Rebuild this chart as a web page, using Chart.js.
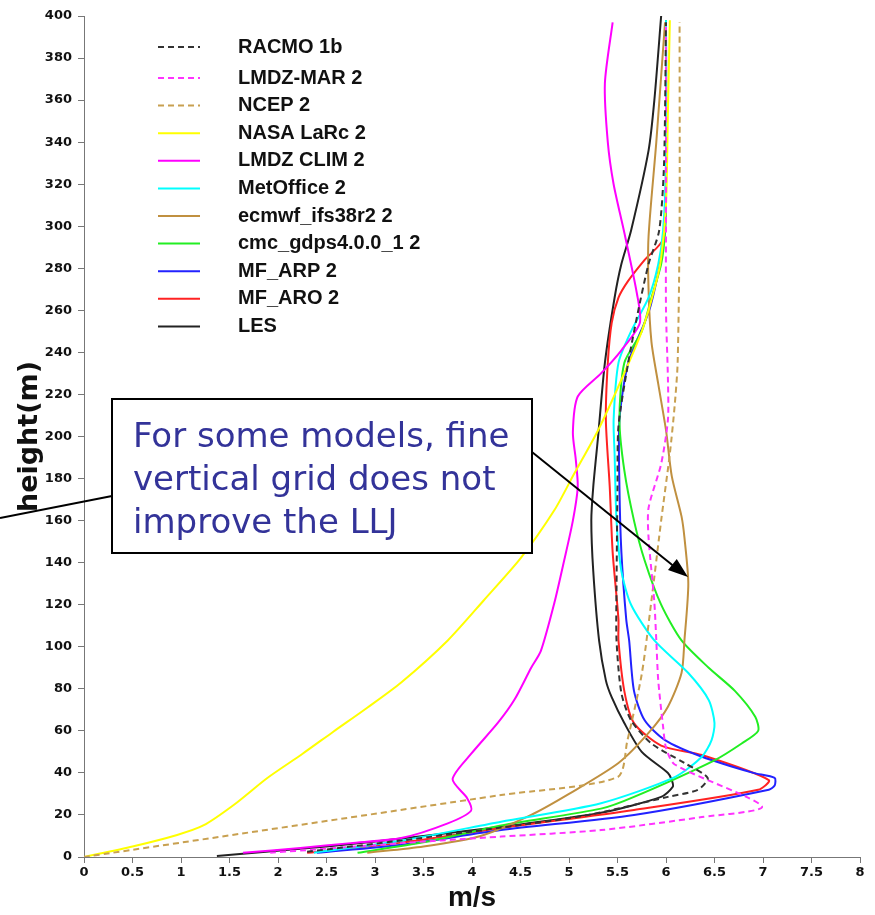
<!DOCTYPE html>
<html>
<head>
	<meta charset="UTF-8">
	<title>Wind speed profiles - LLJ</title>
	<style>
		html, body { margin: 0; padding: 0; background: #fff; }
		canvas { display: block; }
	</style>
	<script src="https://cdn.jsdelivr.net/npm/chart.js@4.4.1/dist/chart.umd.min.js"></script>
</head>
<body>
<canvas id="canvas" width="875" height="915"></canvas>
<script>
	// [speed m/s, height m]
	var racmo    = [[2.3,2.5],[3.3,8],[4.3,14],[5.2,20],[6.02,28.6],[6.33,32],[6.43,37.6],[6.19,44.7],[5.85,54],[5.64,65],[5.54,78],[5.49,103],[5.49,128],[5.5,176],[5.51,205],[5.61,235],[5.71,259],[5.82,282],[5.93,298],[5.98,330],[6.0,397]];
	var lmdzMar  = [[1.92,2],[3.27,6.6],[4.3,9.7],[5.33,12.8],[6.37,19],[6.99,24],[6.09,44],[6.0,52],[5.97,62],[5.92,84],[5.9,103],[5.88,121],[5.82,152],[5.82,166],[5.95,187],[6.02,208],[6.02,227],[6.0,260],[6.0,300],[6.0,395]];
	var ncep     = [[0,0],[4.3,29.5],[5.5,38],[5.6,55],[5.75,87],[5.85,122],[5.95,160],[6.04,192],[6.09,215],[6.12,235],[6.14,300],[6.14,397]];
	var nasa     = [[0,0],[0.5,5],[0.96,10.5],[1.23,15],[1.55,25],[1.89,37.6],[2.25,49],[2.57,59.6],[2.92,71],[3.27,83],[3.75,103],[4.12,122],[4.5,142],[4.85,165],[5.05,182],[5.3,203],[5.54,227],[5.75,250],[5.88,270],[5.95,285],[6.0,310],[6.02,355],[6.04,398]];
	var lmdzClim = [[1.64,2],[2.23,4.3],[2.75,6.6],[3.27,9],[3.75,16],[3.99,22],[3.95,28],[3.8,37],[3.99,49],[4.27,64],[4.44,75],[4.61,90],[4.71,98],[4.85,121],[4.95,141],[5.04,160],[5.09,176],[5.07,189],[5.04,202],[5.09,219],[5.33,230],[5.54,241],[5.73,254],[5.7,268],[5.57,297],[5.46,320],[5.4,340],[5.37,368],[5.45,397]];
	var metOffice= [[2.37,2],[3.3,8],[4.3,16.8],[5.33,25.6],[6.09,38],[6.37,47.7],[6.47,55.6],[6.5,63.7],[6.44,74.7],[6.23,87.5],[5.88,103],[5.64,120],[5.54,136],[5.49,160],[5.47,192],[5.46,208],[5.51,235],[5.64,250],[5.82,266],[5.92,282],[5.97,298],[6.0,330],[6.0,398]];
	var ecmwf    = [[2.92,2],[3.5,5],[4.09,10],[4.61,20],[5.0,30],[5.51,44.7],[5.82,59],[6.02,71.5],[6.16,87.5],[6.19,103],[6.23,130],[6.19,152],[6.16,162],[6.06,181],[6.0,203],[5.92,225],[5.85,245],[5.82,270],[5.82,295],[5.9,340],[5.99,397]];
	var cmc      = [[2.82,2],[3.5,7],[4.3,15],[5.33,23],[5.67,28.6],[6.5,46],[6.78,54],[6.95,60],[6.92,66.7],[6.71,79],[6.44,90],[6.16,103],[5.95,120],[5.78,141],[5.67,160],[5.57,184],[5.52,208],[5.57,235],[5.75,250],[5.85,266],[5.95,282],[5.99,298],[6.0,330],[6.0,398]];
	var mfArp    = [[2.4,2],[3.3,6],[4.3,12.8],[5.67,20],[7.06,32],[7.12,34],[7.12,37.6],[6.9,40],[6.37,47.7],[5.99,55.6],[5.78,65],[5.67,79],[5.62,103],[5.59,113],[5.54,145],[5.52,176],[5.52,208],[5.61,235],[5.82,259],[5.92,278],[5.99,298],[6.0,330],[6.0,398]];
	var mfAro    = [[2.3,2],[3.3,7],[4.3,13.8],[5.67,22.4],[6.95,32],[7.06,36.6],[6.37,48.5],[5.95,53],[5.67,63.7],[5.57,79],[5.51,103],[5.51,113],[5.45,145],[5.42,176],[5.38,208],[5.4,235],[5.44,254],[5.51,266],[5.61,274],[5.78,284],[5.97,294],[6.0,330],[6.0,398]];
	var les      = [[1.37,0.5],[2.5,5],[3.5,10],[4.5,15.5],[5.33,21],[5.95,28.6],[6.07,33.4],[6.06,36.6],[6.02,40],[5.75,50],[5.57,63.7],[5.44,76],[5.38,84],[5.31,103],[5.25,136],[5.23,160],[5.25,176],[5.3,200],[5.37,235],[5.47,266],[5.54,282],[5.64,298],[5.82,336],[5.88,360],[5.95,400]];

	var seriesNames  = ['RACMO 1b','LMDZ-MAR 2','NCEP 2','NASA LaRc 2','LMDZ CLIM 2','MetOffice 2','ecmwf_ifs38r2 2','cmc_gdps4.0.0_1 2','MF_ARP 2','MF_ARO 2','LES'];
	var seriesData   = [racmo, lmdzMar, ncep, nasa, lmdzClim, metOffice, ecmwf, cmc, mfArp, mfAro, les];
	var seriesColors = ['#333333','#ff33ff','#c8a050','#ffff00','#ff00ff','#00ffff','#c09040','#22ee22','#2222ff','#ff2222','#222222'];
	var seriesDashed = [true, true, true, false, false, false, false, false, false, false, false];

	var annotationLines = ['For some models, fine', 'vertical grid does not', 'improve the LLJ'];

	var datasets = seriesNames.map(function(name, i){
		return {
			label: name,
			data: seriesData[i].map(function(p){ return { x: p[0], y: p[1] }; }),
			borderColor: seriesColors[i],
			backgroundColor: seriesColors[i],
			borderWidth: 2,
			borderDash: seriesDashed[i] ? [6, 4] : [],
			showLine: true,
			pointRadius: 0,
			tension: 0.25,
			fill: false
		};
	});

	var legendPlugin = {
		id: 'insideLegend',
		afterDatasetsDraw: function(chart){
			var ctx = chart.ctx;
			ctx.save();
			chart.data.datasets.forEach(function(ds, i){
				var y = i === 0 ? 47 : 78 + (i - 1) * 27.6;
				ctx.strokeStyle = ds.borderColor;
				ctx.lineWidth = 2;
				ctx.setLineDash(ds.borderDash);
				ctx.beginPath(); ctx.moveTo(158, y); ctx.lineTo(200, y); ctx.stroke();
				ctx.setLineDash([]);
				ctx.fillStyle = '#111';
				ctx.font = 'bold 20px "Liberation Sans", Arial, sans-serif';
				ctx.textBaseline = 'middle';
				ctx.fillText(ds.label, 238, y);
			});
			ctx.restore();
		}
	};

	var notePlugin = {
		id: 'note',
		afterDraw: function(chart){
			var ctx = chart.ctx;
			ctx.save();
			// pointer lines
			ctx.strokeStyle = '#000'; ctx.lineWidth = 2;
			ctx.beginPath(); ctx.moveTo(0, 518); ctx.lineTo(112, 496); ctx.stroke();
			ctx.beginPath(); ctx.moveTo(527, 448); ctx.lineTo(676, 568); ctx.stroke();
			var ang = Math.atan2(577 - 448, 688 - 527);
			ctx.fillStyle = '#000';
			ctx.beginPath();
			ctx.moveTo(688, 577);
			ctx.lineTo(688 - 20 * Math.cos(ang) + 7 * Math.sin(ang), 577 - 20 * Math.sin(ang) - 7 * Math.cos(ang));
			ctx.lineTo(688 - 20 * Math.cos(ang) - 7 * Math.sin(ang), 577 - 20 * Math.sin(ang) + 7 * Math.cos(ang));
			ctx.closePath(); ctx.fill();
			// box
			ctx.fillStyle = '#fff';
			ctx.fillRect(112, 399, 420, 154);
			ctx.strokeRect(112, 399, 420, 154);
			ctx.fillStyle = '#333399';
			ctx.font = '34px "DejaVu Sans", sans-serif';
			ctx.textBaseline = 'alphabetic';
			annotationLines.forEach(function(t, i){ ctx.fillText(t, 133, 447 + i * 43); });
			ctx.restore();
		}
	};

	var tickFont = { family: '"DejaVu Sans", sans-serif', size: 13, weight: 'bold' };

	new Chart(document.getElementById('canvas').getContext('2d'), {
		type: 'scatter',
		data: { datasets: datasets },
		plugins: [legendPlugin, notePlugin],
		options: {
			responsive: false,
			devicePixelRatio: 1,
			animation: false,
			layout: { padding: { top: 16, right: 15, left: 0, bottom: 0 } },
			plugins: { legend: { display: false }, tooltip: { enabled: false } },
			scales: {
				x: {
					type: 'linear', min: 0, max: 8,
					afterFit: function(s){ s.height = 58; },
					ticks: { stepSize: 0.5, color: '#111', font: tickFont, padding: 2, maxRotation: 0,
						callback: function(v){ return String(v); } },
					grid: { drawOnChartArea: false, drawTicks: true, tickLength: 6, color: '#777' },
					border: { display: true, color: '#777', width: 1 },
					title: { display: true, text: 'm/s', color: '#111', padding: 0,
						font: { family: '"Liberation Sans", Arial, sans-serif', size: 28, weight: 'bold' } }
				},
				y: {
					type: 'linear', min: 0, max: 400,
					afterFit: function(s){ s.width = 84; },
					ticks: { stepSize: 20, color: '#111', font: tickFont, padding: 6 },
					grid: { drawOnChartArea: false, drawTicks: true, tickLength: 6, color: '#777' },
					border: { display: true, color: '#777', width: 1 },
					title: { display: true, text: 'height(m)', color: '#111', padding: { top: 14, bottom: 0 },
						font: { family: '"DejaVu Sans", sans-serif', size: 27, weight: 'bold' } }
				}
			}
		}
	});
</script>
</body>
</html>
